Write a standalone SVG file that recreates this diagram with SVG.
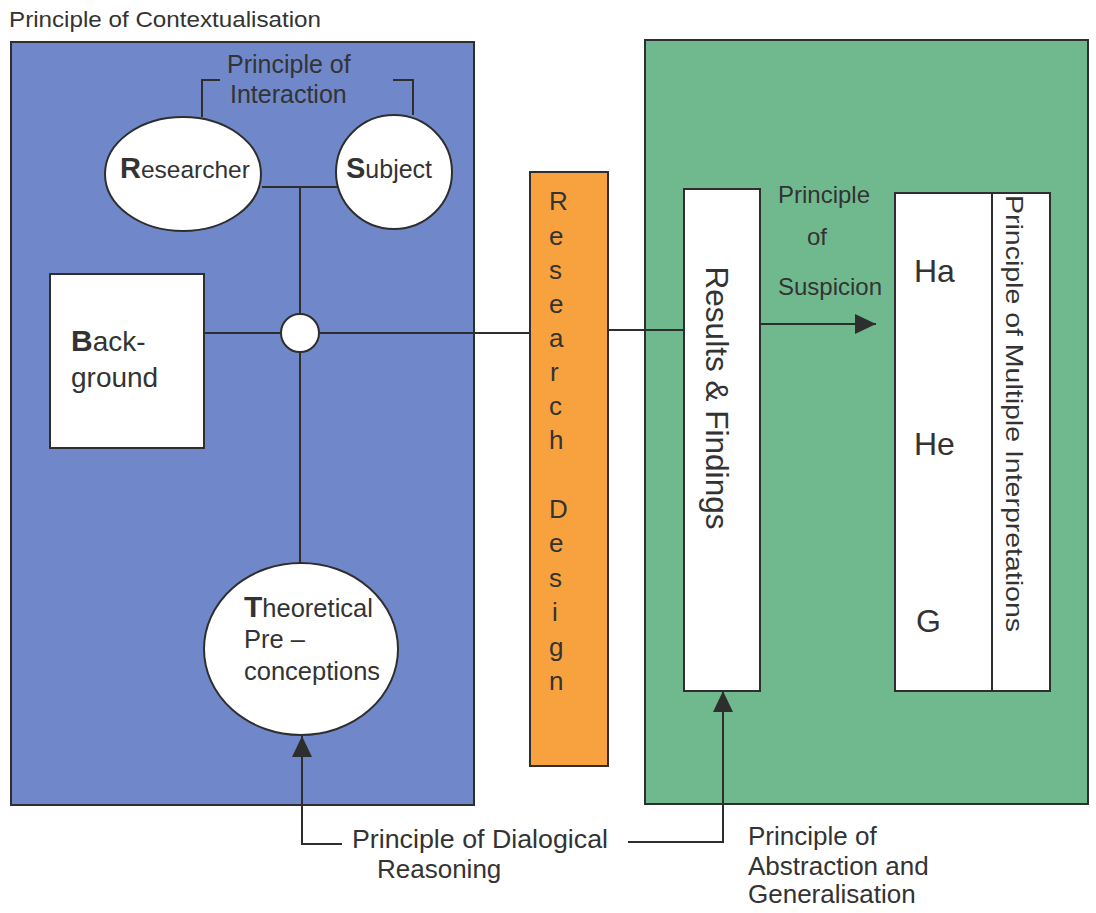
<svg xmlns="http://www.w3.org/2000/svg" width="1096" height="913" viewBox="0 0 1096 913">
<style>
text{font-family:"Liberation Sans",Arial,sans-serif;fill:#333}
.box{stroke:#2e2e2e;stroke-width:2}
.w{fill:#fff;stroke:#2e2e2e;stroke-width:2}
.ln{fill:none;stroke:#2e2e2e;stroke-width:2}
.b{font-weight:bold}
</style>
<defs>
<marker id="ah" markerWidth="21" markerHeight="20" viewBox="0 0 21 20" refX="21" refY="10" orient="auto" markerUnits="userSpaceOnUse">
<path d="M0,0 L21,10 L0,20 Z" fill="#2e2e2e"/>
</marker>
</defs>
<rect width="1096" height="913" fill="#fff"/>
<text x="9" y="27" font-size="22" textLength="312" lengthAdjust="spacingAndGlyphs">Principle of Contextualisation</text>
<g id="contextualisation"><rect class="box" x="11" y="42" width="463" height="763" fill="#7088c9"/></g>
<g id="suspicion-area"><rect class="box" x="645" y="40" width="443" height="764" fill="#70b98f"/></g>
<g id="research-design">
<rect class="box" x="530" y="172" width="78" height="594" fill="#f7a23f"/>
<g font-size="26">
<text x="549" y="210">R</text><text x="549" y="245">e</text><text x="549" y="279">s</text><text x="549" y="313">e</text><text x="549" y="347">a</text><text x="550" y="381">r</text><text x="549" y="415">c</text><text x="549" y="449">h</text>
<text x="549" y="518">D</text><text x="549" y="552">e</text><text x="549" y="587">s</text><text x="552" y="621">i</text><text x="549" y="656">g</text><text x="549" y="690">n</text>
</g>
</g>
<g id="connectors">
<path class="ln" d="M202,117 V80 H220 M393,80 H413 V115"/>
<path class="ln" d="M262,187 H338"/>
<path class="ln" d="M300,187 V314 M300,352 V563"/>
<path class="ln" d="M204,333 H281 M319,333 H530"/>
<path class="ln" d="M608,330 H684"/>
<path class="ln" d="M760,324 H876" marker-end="url(#ah)"/>
<path class="ln" d="M342,844 H302 V736" marker-end="url(#ah)"/>
<path class="ln" d="M628,842 H723 V691" marker-end="url(#ah)"/>
</g>
<g id="interaction-label">
<text x="227" y="73" font-size="25">Principle of</text>
<text x="230" y="103" font-size="25">Interaction</text>
</g>
<g id="researcher">
<ellipse class="w" cx="183" cy="174" rx="78" ry="57"/>
<text x="120" y="178" font-size="24.5"><tspan class="b" font-size="29">R</tspan>esearcher</text>
</g>
<g id="subject">
<ellipse class="w" cx="394" cy="172" rx="58" ry="57"/>
<text x="346" y="178" font-size="25"><tspan class="b" font-size="29">S</tspan>ubject</text>
</g>
<g id="junction"><circle class="w" cx="300" cy="333" r="19"/></g>
<g id="background">
<rect class="w" x="50" y="274" width="154" height="174"/>
<text x="71" y="351" font-size="28"><tspan class="b" font-size="30">B</tspan>ack-</text>
<text x="71" y="387" font-size="28">ground</text>
</g>
<g id="theoretical">
<ellipse class="w" cx="301" cy="649" rx="97" ry="86"/>
<text x="244" y="617" font-size="25.5"><tspan class="b" font-size="30">T</tspan>heoretical</text>
<text x="244" y="648" font-size="25.5">Pre –</text>
<text x="244" y="680" font-size="25.5">conceptions</text>
</g>
<g id="results">
<rect class="w" x="684" y="189" width="76" height="502"/>
<text transform="translate(706,398) rotate(90)" text-anchor="middle" font-size="31" textLength="263" lengthAdjust="spacingAndGlyphs">Results &amp; Findings</text>
</g>
<g id="suspicion-label" font-size="24">
<text x="778" y="203">Principle</text>
<text x="807" y="245">of</text>
<text x="778" y="295">Suspicion</text>
</g>
<g id="interpretations">
<rect class="w" x="895" y="193" width="155" height="498"/>
<line class="ln" x1="992" y1="193" x2="992" y2="691"/>
<text x="914" y="282" font-size="32">Ha</text>
<text x="914" y="455" font-size="32">He</text>
<text x="916" y="632" font-size="32">G</text>
<text transform="translate(1006,195) rotate(90)" font-size="24" textLength="437" lengthAdjust="spacingAndGlyphs">Principle of Multiple Interpretations</text>
</g>
<g id="dialogical-label" font-size="26">
<text x="352" y="848" textLength="256" lengthAdjust="spacingAndGlyphs">Principle of Dialogical</text>
<text x="377" y="878">Reasoning</text>
</g>
<g id="abstraction-label" font-size="26">
<text x="748" y="845">Principle of</text>
<text x="748" y="875">Abstraction and</text>
<text x="748" y="903">Generalisation</text>
</g>
</svg>
